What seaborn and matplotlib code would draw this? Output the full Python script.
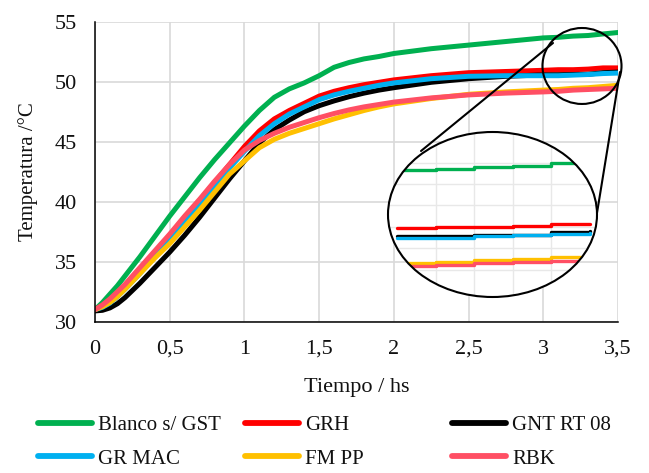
import numpy as np
import pandas as pd
import matplotlib
matplotlib.use('Agg')
import matplotlib.pyplot as plt
import seaborn as sns
from matplotlib.patches import Ellipse

# ---------------- data ----------------
tiempo = [0, 0.05, 0.1, 0.15, 0.2, 0.3, 0.4, 0.5, 0.6, 0.7, 0.8, 0.9, 1.0, 1.1, 1.2,
          1.3, 1.4, 1.5, 1.6, 1.7, 1.8, 1.9, 2.0, 2.25, 2.5, 2.75, 3.0, 3.1, 3.2, 3.3,
          3.4, 3.5]
blanco = [31.0, 31.6, 32.3, 33.0, 33.8, 35.4, 37.1, 38.8, 40.4, 42.0, 43.5, 44.9, 46.3,
          47.6, 48.7, 49.4, 49.9, 50.5, 51.2, 51.6, 51.9, 52.1, 52.35, 52.75, 53.05,
          53.35, 53.65, 53.7, 53.8, 53.85, 53.98, 54.1]
grh = [31.0, 31.35, 31.8, 32.4, 33.0, 34.4, 35.8, 37.2, 38.7, 40.1, 41.6, 43.1, 44.6,
       45.9, 46.9, 47.6, 48.2, 48.8, 49.2, 49.5, 49.75, 49.95, 50.15, 50.5, 50.75,
       50.85, 50.95, 51.0, 51.0, 51.05, 51.15, 51.15]
gnt = [30.9, 30.95, 31.15, 31.5, 32.0, 33.2, 34.5, 35.8, 37.2, 38.7, 40.3, 41.9, 43.4,
       44.9, 46.0, 46.8, 47.5, 48.0, 48.4, 48.75, 49.05, 49.3, 49.5, 49.95, 50.25,
       50.45, 50.57, 50.58, 50.6, 50.62, 50.75, 50.8]
grmac = [31.0, 31.2, 31.55, 32.1, 32.7, 34.0, 35.4, 36.8, 38.3, 39.8, 41.3, 42.8, 44.2,
         45.5, 46.5, 47.3, 47.9, 48.5, 48.9, 49.2, 49.45, 49.7, 49.9, 50.25, 50.45,
         50.5, 50.5, 50.5, 50.55, 50.6, 50.68, 50.72]
fmpp = [31.0, 31.25, 31.6, 32.1, 32.7, 34.0, 35.3, 36.5, 37.9, 39.3, 40.8, 42.3, 43.4,
        44.5, 45.2, 45.7, 46.1, 46.5, 46.9, 47.25, 47.6, 47.9, 48.15, 48.6, 48.95,
        49.15, 49.3, 49.35, 49.45, 49.5, 49.6, 49.7]
rbk = [31.0, 31.4, 31.9, 32.5, 33.1, 34.5, 35.9, 37.3, 38.8, 40.2, 41.7, 43.1, 44.3,
       45.1, 45.7, 46.2, 46.6, 47.0, 47.35, 47.65, 47.9, 48.1, 48.3, 48.65, 48.9,
       49.05, 49.15, 49.2, 49.3, 49.35, 49.4, 49.45]

series_names = ['Blanco s/ GST', 'GRH', 'GNT RT 08', 'GR MAC', 'FM PP', 'RBK']
series_values = [blanco, grh, gnt, grmac, fmpp, rbk]
colors = ['#00B050', '#FF0000', '#000000', '#00B0F0', '#FFC000', '#FF4F64']

x_ticks = [0, 0.5, 1, 1.5, 2, 2.5, 3, 3.5]
x_tick_labels = ['0', '0,5', '1', '1,5', '2', '2,5', '3', '3,5']
y_ticks = [30, 35, 40, 45, 50, 55]
x_label = 'Tiempo / hs'
y_label = 'Temperatura /°C'

# zoomed region
inset_x_grid = [3.1, 3.2, 3.3, 3.4]
inset_y_grid = [49, 50, 51, 52, 53, 54]

# ---------------- build long-form table ----------------
df = pd.DataFrame({
    't': tiempo * len(series_names),
    'T': sum(series_values, []),
    'serie': sum([[n] * len(tiempo) for n in series_names], []),
})

sns.set_theme(style='white')
plt.rcParams['font.family'] = ['Liberation Serif', 'DejaVu Serif']

W, H = 649, 473
fig = plt.figure(figsize=(W / 100, H / 100), dpi=100)


def fx(px):
    return px / W


def fy(py):
    return 1 - py / H


TXT = '#111111'
ax = fig.add_axes([fx(95), fy(321.7), fx(618) - fx(95), fy(21.7) - fy(321.7)])
sns.lineplot(data=df, x='t', y='T', hue='serie', hue_order=series_names,
             palette=colors, linewidth=3.6, errorbar=None, ax=ax,
             solid_capstyle='round', solid_joinstyle='round')

ax.set_xlim(0, 3.5)
ax.set_ylim(30, 55)
ax.set_xticks(x_ticks)
ax.set_xticklabels(x_tick_labels)
ax.set_yticks(y_ticks)
ax.xaxis.grid(True, color='#D9D9D9', linewidth=1.2)
ax.yaxis.grid(True, color='#D9D9D9', linewidth=1.2)
ax.set_axisbelow(True)
for s in ['top', 'right']:
    ax.spines[s].set_visible(False)
for s in ['left', 'bottom']:
    ax.spines[s].set_color('black')
    ax.spines[s].set_linewidth(1.1)
ax.tick_params(axis='both', direction='in', length=6, width=1.1, color='black',
               labelsize=16, labelcolor=TXT, pad=13)
ax.set_xlabel(x_label, fontsize=16, labelpad=14, color=TXT)
ax.set_ylabel(y_label, fontsize=15, labelpad=12, color=TXT)

# small circle marking the zoomed region
ax.add_patch(Ellipse((3.259, 51.31), 0.529, 6.33, fill=False, ec='black',
                     lw=1.5, clip_on=False, zorder=6))
ax.plot([fx(553), fx(421)], [fy(43), fy(151)], transform=fig.transFigure,
        color='black', lw=1.5, clip_on=False, zorder=6)
ax.plot([fx(620), fx(597)], [fy(72), fy(213)], transform=fig.transFigure,
        color='black', lw=1.5, clip_on=False, zorder=6)

# legends
leg = ax.legend_
handles = list(leg.legend_handles)
labels = [t.get_text() for t in leg.get_texts()]
leg.remove()
for h in handles:
    h.set_linewidth(4.2)
    h.set_solid_capstyle('round')
for col, x0 in enumerate([38, 245, 452]):
    idx = [col, col + 3]
    fig.legend([handles[i] for i in idx], [labels[i] for i in idx],
               loc='center left', bbox_to_anchor=(fx(x0), fy(442)),
               frameon=False, fontsize=15, handlelength=2.6, handletextpad=0.3,
               labelspacing=0.68, borderpad=0, borderaxespad=0,
               labelcolor=TXT)

# inset (magnified view)
axin = fig.add_axes([fx(388), fy(297), fx(597) - fx(388), fy(132) - fy(297)])
axin.set_xlim(2.977, 3.518)
axin.set_ylim(47.72, 55.43)
axin.patch.set_visible(False)
for s in axin.spines.values():
    s.set_visible(False)
axin.set_xticks([])
axin.set_yticks([])
ell_fill = Ellipse((0.5, 0.5), 1, 1, transform=axin.transAxes, fc='white',
                   ec='none', zorder=0)
axin.add_patch(ell_fill)
for xv in inset_x_grid:
    l = axin.axvline(xv, color='#E8E8E8', lw=1.0, zorder=1)
    l.set_clip_path(ell_fill)
for yv in inset_y_grid:
    l = axin.axhline(yv, color='#E8E8E8', lw=1.0, zorder=1)
    l.set_clip_path(ell_fill)
df_in = df[df['t'] >= 3.0]
sns.lineplot(data=df_in, x='t', y='T', hue='serie', hue_order=series_names,
             palette=colors, linewidth=2.4, errorbar=None, ax=axin,
             drawstyle='steps-post', legend=False)
axin.set_xlabel('')
axin.set_ylabel('')
for ln in axin.lines:
    ln.set_clip_path(ell_fill)
axin.add_patch(Ellipse((0.5, 0.5), 1, 1, transform=axin.transAxes, fill=False,
                       ec='black', lw=1.5, clip_on=False, zorder=10))

fig.savefig('out.png', dpi=100)
